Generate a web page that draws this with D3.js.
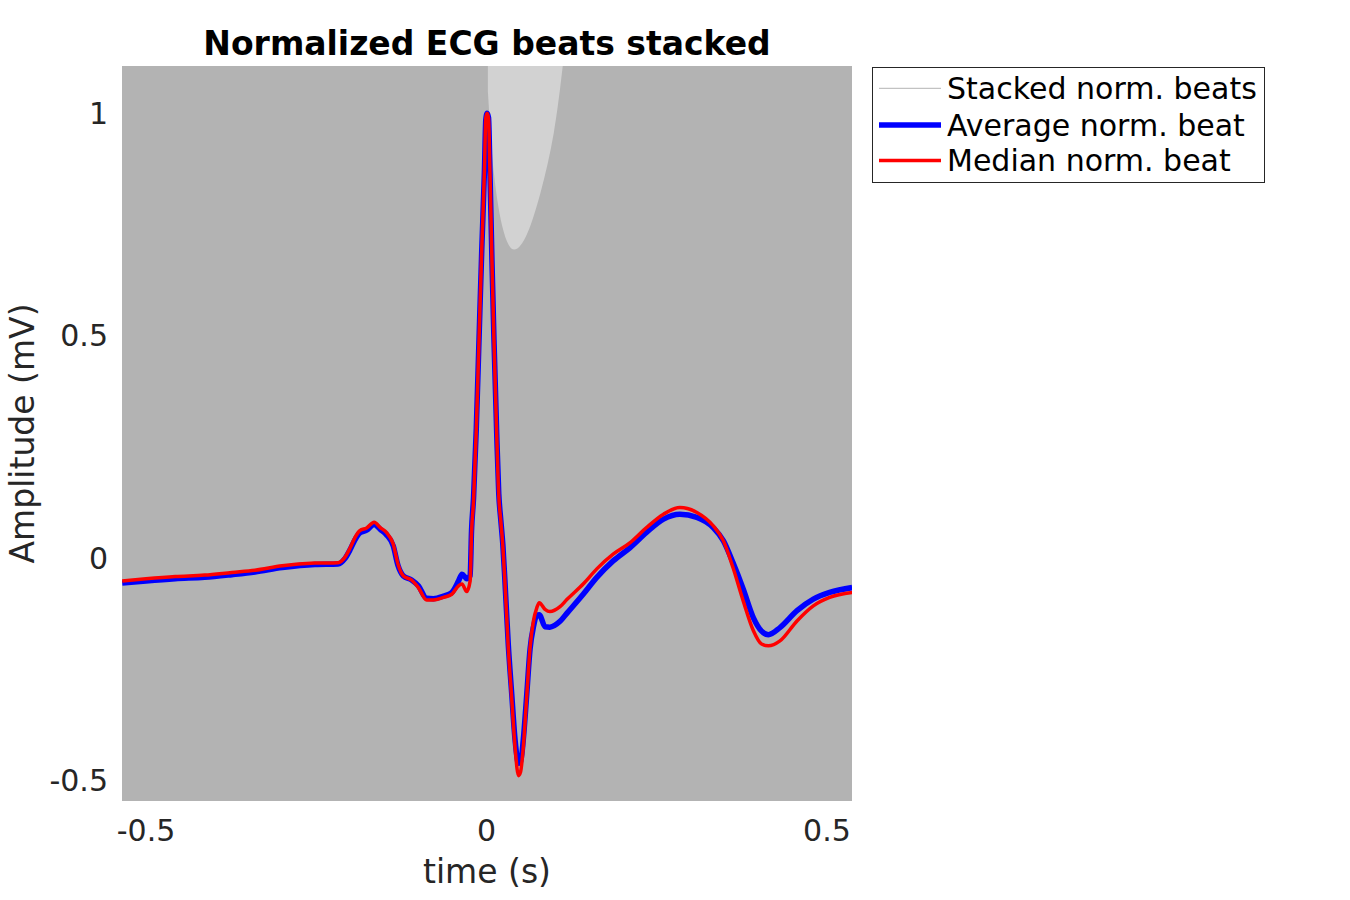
<!DOCTYPE html>
<html>
<head>
<meta charset="utf-8">
<script src="https://cdn.jsdelivr.net/npm/d3@7"></script>
<style>
  html, body { margin: 0; padding: 0; background: #ffffff; }
  svg { display: block; font-family: "DejaVu Sans", sans-serif; }
</style>
</head>
<body>
<svg id="chart" width="1350" height="900"></svg>
<script>
// ---- data ----
const time = [-0.535, -0.50, -0.457, -0.414, -0.374, -0.340, -0.300, -0.252, -0.218, -0.208,
  -0.200, -0.193, -0.186, -0.176, -0.165, -0.156, -0.147, -0.137, -0.130, -0.122,
  -0.110, -0.100, -0.088, -0.078, -0.063, -0.051, -0.041, -0.036, -0.029, -0.024,
  -0.022, -0.019, -0.015, -0.011, -0.007, -0.003, -0.001, 0.001, 0.003, 0.005,
  0.008, 0.011, 0.015, 0.018, 0.021, 0.024, 0.027, 0.032, 0.037, 0.042,
  0.047, 0.050, 0.054, 0.059, 0.064, 0.069, 0.074, 0.0775, 0.086, 0.093,
  0.108, 0.118, 0.142, 0.162, 0.186, 0.211, 0.235, 0.260, 0.284, 0.309,
  0.333, 0.348, 0.362, 0.377, 0.392, 0.404, 0.414, 0.431, 0.456, 0.480,
  0.504, 0.537];
const medianBeat = [-0.052, -0.047, -0.042, -0.039, -0.033, -0.028, -0.018, -0.012, -0.011, 0.001,
  0.023, 0.046, 0.061, 0.067, 0.080, 0.068, 0.057, 0.031, -0.014, -0.041,
  -0.050, -0.067, -0.095, -0.095, -0.089, -0.082, -0.063, -0.059, -0.076, -0.052,
  0.054, 0.128, 0.286, 0.489, 0.691, 0.872, 0.989, 1.000, 0.989, 0.872,
  0.669, 0.489, 0.279, 0.140, 0.083, 0.027, -0.052, -0.202, -0.315, -0.427,
  -0.490, -0.482, -0.427, -0.315, -0.202, -0.142, -0.112, -0.101, -0.116, -0.121,
  -0.110, -0.094, -0.059, -0.025, 0.008, 0.034, 0.068, 0.098, 0.113, 0.102,
  0.072, 0.038, -0.022, -0.097, -0.164, -0.194, -0.198, -0.187, -0.142, -0.108,
  -0.089, -0.078];
const averageBeat = [-0.057, -0.052, -0.047, -0.044, -0.038, -0.032, -0.022, -0.015, -0.014, -0.002,
  0.019, 0.041, 0.056, 0.062, 0.075, 0.064, 0.052, 0.027, -0.017, -0.041,
  -0.050, -0.063, -0.091, -0.092, -0.086, -0.078, -0.052, -0.037, -0.047, -0.040,
  0.060, 0.135, 0.290, 0.490, 0.690, 0.870, 0.985, 1.000, 0.990, 0.875,
  0.670, 0.490, 0.280, 0.145, 0.085, 0.030, -0.050, -0.195, -0.305, -0.410,
  -0.462, -0.460, -0.410, -0.310, -0.205, -0.155, -0.130, -0.128, -0.155, -0.156,
  -0.143, -0.125, -0.082, -0.044, -0.007, 0.023, 0.057, 0.087, 0.098, 0.091,
  0.068, 0.038, -0.011, -0.070, -0.135, -0.165, -0.173, -0.157, -0.119, -0.093,
  -0.078, -0.067];
// envelope covered by the stacked normalized beats (they fill the whole axes)
const stackTime = [-0.5353, 0.5368];
const stackUpper = [1.106, 1.106];
const stackLower = [-0.547, -0.547];
// sparser zone of stacked beats just after the R peak
const sparseTime = [0.002, 0.010, 0.025, 0.040, 0.060, 0.080, 0.100, 0.112];
const sparseLower = [1.05, 0.85, 0.72, 0.68, 0.72, 0.82, 0.95, 1.106];
const xTicks = [-0.5, 0, 0.5];
const yTicks = [-0.5, 0, 0.5, 1];
const legendLabels = ["Stacked norm. beats", "Average norm. beat", "Median norm. beat"];

// ---- layout ----
const svg = d3.select("#chart");
const L = 122, R = 852, T = 66, B = 801;
const x = d3.scaleLinear().domain([-0.5353, 0.5368]).range([L, R]);
const y = d3.scaleLinear().domain([-0.547, 1.106]).range([B, T]);
const txt = "#262626";

svg.append("rect").attr("width", 1350).attr("height", 900).attr("fill", "#ffffff");
svg.append("defs").append("clipPath").attr("id", "clip")
  .append("rect").attr("x", L).attr("y", T).attr("width", R - L).attr("height", B - T);

const plot = svg.append("g").attr("clip-path", "url(#clip)");

// stacked beats envelope
const stackData = stackTime.map((t, i) => ({t, hi: stackUpper[i], lo: stackLower[i]}));
plot.append("path").datum(stackData)
  .attr("fill", "#b3b3b3")
  .attr("d", d3.area().x(d => x(d.t)).y0(d => y(d.lo)).y1(d => y(d.hi)));

const sparseData = sparseTime.map((t, i) => ({t, lo: sparseLower[i]}));
plot.append("path").datum(sparseData)
  .attr("fill", "#d2d2d2")
  .attr("d", d3.area().curve(d3.curveBasis).x(d => x(d.t)).y0(d => y(d.lo)).y1(y(1.106)));

const line = d3.line().curve(d3.curveMonotoneX).x(d => x(d.t)).y(d => y(d.v));
plot.append("path").datum(time.map((t, i) => ({t, v: averageBeat[i]})))
  .attr("fill", "none").attr("stroke", "#0000ff").attr("stroke-width", 5.5)
  .attr("stroke-linejoin", "round").attr("d", line);
plot.append("path").datum(time.map((t, i) => ({t, v: medianBeat[i]})))
  .attr("fill", "none").attr("stroke", "#ff0000").attr("stroke-width", 3.5)
  .attr("stroke-linejoin", "round").attr("d", line);

// tick labels
svg.append("g").selectAll("text").data(xTicks).join("text")
  .attr("x", d => x(d)).attr("y", 841).attr("text-anchor", "middle")
  .attr("font-size", 30).attr("fill", txt).text(d => d);
svg.append("g").selectAll("text").data(yTicks).join("text")
  .attr("x", 108).attr("y", d => y(d) + 11).attr("text-anchor", "end")
  .attr("font-size", 30).attr("fill", txt).text(d => d);

// axis labels
svg.append("text").attr("x", (L + R) / 2).attr("y", 883).attr("text-anchor", "middle")
  .attr("font-size", 33).attr("fill", txt).text("time (s)");
svg.append("text").attr("transform", `translate(34,${(T + B) / 2}) rotate(-90)`)
  .attr("text-anchor", "middle").attr("font-size", 33).attr("fill", txt).text("Amplitude (mV)");

// title
svg.append("text").attr("x", (L + R) / 2).attr("y", 55).attr("text-anchor", "middle")
  .attr("font-size", 33).attr("font-weight", "bold").attr("fill", "#000").text("Normalized ECG beats stacked");

// legend
const lg = svg.append("g");
lg.append("rect").attr("x", 872.5).attr("y", 67.5).attr("width", 392).attr("height", 115)
  .attr("fill", "#ffffff").attr("stroke", txt).attr("stroke-width", 1);
const legendStyle = [
  {c: "#b3b3b3", w: 1, ly: 88.3},
  {c: "#0000ff", w: 5.5, ly: 125},
  {c: "#ff0000", w: 3.5, ly: 160.5}
];
legendLabels.forEach((lab, i) => {
  const s = legendStyle[i];
  lg.append("line").attr("x1", 879).attr("x2", 941).attr("y1", s.ly).attr("y2", s.ly)
    .attr("stroke", s.c).attr("stroke-width", s.w);
  lg.append("text").attr("x", 947).attr("y", s.ly + 10.5).attr("font-size", 30)
    .attr("fill", "#000").text(lab);
});
</script>
</body>
</html>
